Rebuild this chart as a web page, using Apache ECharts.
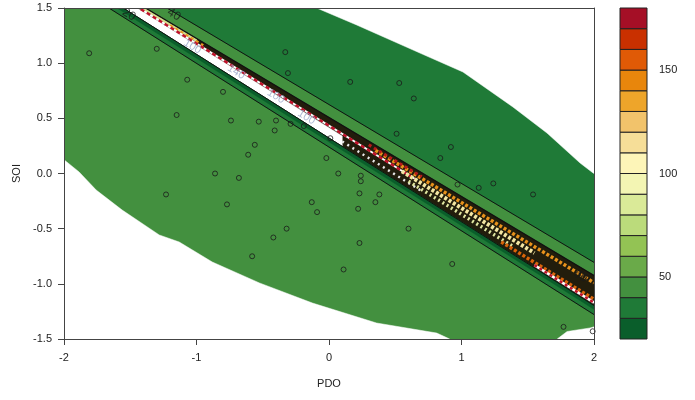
<!DOCTYPE html>
<html>
<head>
<meta charset="utf-8">
<script src="https://cdn.jsdelivr.net/npm/echarts@6/dist/echarts.min.js"></script>
<style>
  html, body { margin: 0; padding: 0; background: #ffffff; }
  #chart { width: 695px; height: 400px; }
</style>
</head>
<body>
<div id="chart"></div>
<script>
// ---- colour key: lower bound of each 10-unit band and its fill ----
const levels = [20, 30, 40, 50, 60, 70, 80, 90, 100, 110, 120, 130, 140, 150, 160, 170];
const levelColors = ['#0a5e2b', '#1f7a37', '#43903f', '#6aaa49', '#93c354', '#bbdb7b',
  '#daea98', '#f3f5b3', '#fdf5b8', '#f6de98', '#f2c36b', '#eea52a', '#e8860c', '#e05a06',
  '#c93000', '#a50f26'];
const keyTicks = [50, 100, 150];

// ---- observations (PDO, SOI) ----
const pdo = [-1.81, -1.30, -0.33, -0.31, 0.16, 0.53, 0.64, -1.07, -0.80, -1.15,
  0.51, 0.92, 0.84, -0.74, -0.53, -0.40, -0.29, -0.19, -0.41, -0.56,
  -0.61, -0.02, 0.01, 0.07, -0.86, -0.68, 0.24, 0.24, 0.23, 0.38,
  0.97, 1.13, 1.24, 1.54, -1.23, -0.77, -0.13, -0.09, 0.22, 0.35,
  0.60, -0.32, -0.42, 0.23, -0.58, 0.11, 0.93, 1.91, 1.95, 1.77, 1.99];
const soi = [1.09, 1.13, 1.10, 0.91, 0.83, 0.82, 0.68, 0.85, 0.74, 0.53,
  0.36, 0.24, 0.14, 0.48, 0.47, 0.48, 0.45, 0.43, 0.39, 0.26,
  0.17, 0.14, 0.32, 0.00, 0.00, -0.04, -0.02, -0.07, -0.18, -0.19,
  -0.10, -0.13, -0.09, -0.19, -0.19, -0.28, -0.26, -0.35, -0.32, -0.26,
  -0.50, -0.50, -0.58, -0.63, -0.75, -0.87, -0.82, -0.91, -0.94, -1.39, -1.43];

// ---- contour boundaries (PDO, SOI end points) ----
const plotArea = [[-2, -1.5], [2, -1.5], [2, 1.5], [-2, 1.5]];
const contourHi40 = [[-2.3, 2.27], [2.3, -1.02]];
const bandTop = [[-2.3, 2.155], [2.3, -1.139]];
const contour20 = [[-2.3, 2.067], [2.3, -1.424]];
const contour30 = [[-2.3, 2.032], [2.3, -1.459]];
const contourLo40 = [[-2.3, 1.985], [2.3, -1.506]];
const lowGap = [[-2.3, 2.137], [0.10, 0.340], [0.10, 0.246], [-2.3, 2.067]];

// narrow streaks of high values inside the steep band
const streakTopLeft = [[-1.45, 1.53], [-1.00, 1.205]];
const streakTopOrange = [[-1.20, 1.34], [-0.95, 1.16]];
const streakRedCentre = [[-1.42, 1.49], [0.65, -0.05]];
const streakGapDash = [[0.10, 0.29], [0.70, -0.16]];
const streakRedLeft = [[0.30, 0.26], [0.70, -0.03]];
const streakOrange = [[0.35, 0.21], [2.00, -0.99]];
const streakYellow = [[0.55, 0.02], [1.55, -0.72]];
const streakPale = [[0.60, -0.07], [1.40, -0.67]];
const streakDeep = [[1.30, -0.62], [2.00, -1.14]];
const streakRedRight = [[1.55, -0.83], [2.00, -1.17]];

// ---- edges of the fitted region (outside is left blank) ----
const edgeUpper = [[-0.093, 1.5], [0.209, 1.346], [0.686, 1.092], [1.011, 0.920],
  [1.388, 0.603], [1.645, 0.367], [1.895, 0.095], [1.993, 0.005], [2.0, 0.0]];
const edgeLower = [[-2.0, 0.125], [-1.886, 0.014], [-1.757, -0.150], [-1.561, -0.331],
  [-1.281, -0.557], [-1.130, -0.621], [-0.881, -0.802], [-0.525, -0.992], [-0.125, -1.174],
  [0.359, -1.355], [0.813, -1.446], [0.911, -1.5]];
const edgeLowerRight = [[1.722, -1.5], [1.797, -1.432], [1.970, -1.400], [2.0, -1.39]];

// ---- contour labels: PDO, SOI, text ----
const contourLabels = [
  [-1.17, 1.44, '40'], [-1.51, 1.44, '20'], [1.90, -0.93, '60']
];
const faintLabels = [
  [-1.03, 1.15, '100'], [-0.70, 0.92, '140'], [-0.40, 0.70, '100'], [-0.17, 0.51, '100']
];

const FONT = '"Liberation Sans", Arial, sans-serif';
const colorOf = v => levelColors[levels.indexOf(v)];
const rev = a => a.slice().reverse();

const fills = [
  { pts: plotArea, fill: colorOf(40) },
  { pts: contourHi40.concat([[2.3, 3], [-2.3, 3]]), fill: colorOf(30) },
  { pts: bandTop.concat(rev(contour20)), fill: '#221d0c' },
  { pts: lowGap, fill: '#ffffff' },
  { pts: contour20.concat(rev(contourLo40)), fill: colorOf(30) },
  { pts: contour20.concat(rev(contour30)), fill: colorOf(20) },
  { pts: streakTopLeft, stroke: '#d3df8c', width: 3 },
  { pts: streakTopOrange, stroke: '#e89a22', width: 3, dash: [3, 3] },
  { pts: streakRedCentre, stroke: '#ffffff', width: 2 },
  { pts: streakRedCentre, stroke: '#c0122a', width: 2.5, dash: [4, 3] },
  { pts: streakGapDash, stroke: '#e8e8e8', width: 2.5, dash: [2, 4] },
  { pts: streakOrange, stroke: '#e8921c', width: 3.5, dash: [3, 2] },
  { pts: streakYellow, stroke: '#f3e6a2', width: 4, dash: [3, 2] },
  { pts: streakPale, stroke: '#dfe6a0', width: 3.5, dash: [2, 3] },
  { pts: streakDeep, stroke: '#d9640a', width: 3.5, dash: [3, 2] },
  { pts: streakRedLeft, stroke: '#b81a1a', width: 3, dash: [3, 3] },
  { pts: streakRedRight, stroke: '#ffffff', width: 2.5 },
  { pts: streakRedRight, stroke: '#c0122a', width: 2.5, dash: [3, 3] },
  { pts: contourHi40, stroke: '#111111', width: 1 },
  { pts: bandTop, stroke: '#111111', width: 1.2 },
  { pts: contour20, stroke: '#111111', width: 1 },
  { pts: contourLo40, stroke: '#111111', width: 1 },
  { pts: [[-0.093, 1.8]].concat(edgeUpper, [[2.3, 0.0], [2.3, 1.8]]), fill: '#ffffff' },
  { pts: [[-2.3, 0.125]].concat(edgeLower, [[0.911, -1.8], [-2.3, -1.8]]), fill: '#ffffff' },
  { pts: [[1.722, -1.8]].concat(edgeLowerRight, [[2.3, -1.39], [2.3, -1.8]]), fill: '#ffffff' }
];

function shapeSeries(items, xi, yi, z) {
  return {
    type: 'custom', xAxisIndex: xi, yAxisIndex: yi, clip: true, silent: true, z: z,
    animation: false,
    data: items.map(() => [0, 0]),
    renderItem(params, api) {
      const it = items[params.dataIndex];
      const points = it.pts.map(p => api.coord(p));
      if (it.fill) {
        return { type: 'polygon', shape: { points }, style: { fill: it.fill, stroke: it.fill, lineWidth: 0.5 } };
      }
      return {
        type: 'polyline', shape: { points },
        style: { fill: null, stroke: it.stroke, lineWidth: it.width, lineDash: it.dash || null }
      };
    }
  };
}

// colour key boxes
const keyBoxes = levels.map((lo, i) => ({ lo, hi: lo + 10, color: levelColors[i] }));

const axisText = { color: '#222', fontSize: 11, fontFamily: FONT };

const option = {
  animation: false,
  backgroundColor: '#ffffff',
  grid: [
    { left: 64, top: 8, width: 530, height: 331 },
    { left: 620, top: 8, width: 27, height: 331 }
  ],
  xAxis: [
    {
      type: 'value', gridIndex: 0, min: -2, max: 2, interval: 1, z: 10,
      axisLine: { show: true, onZero: false, lineStyle: { color: '#444', width: 1 } },
      axisTick: { show: true, length: 6, lineStyle: { color: '#444' } },
      axisLabel: Object.assign({ margin: 13, formatter: v => String(v) }, axisText),
      splitLine: { show: false },
      name: 'PDO', nameLocation: 'middle', nameGap: 39, nameTextStyle: axisText
    },
    {
      type: 'value', gridIndex: 0, min: -2, max: 2, position: 'top', z: 10,
      axisLine: { show: true, onZero: false, lineStyle: { color: '#444', width: 1 } },
      axisTick: { show: false }, axisLabel: { show: false }, splitLine: { show: false }
    },
    { type: 'value', gridIndex: 1, min: 0, max: 1, show: false }
  ],
  yAxis: [
    {
      type: 'value', gridIndex: 0, min: -1.5, max: 1.5, interval: 0.5, z: 10,
      axisLine: { show: true, onZero: false, lineStyle: { color: '#444', width: 1 } },
      axisTick: { show: true, length: 6, lineStyle: { color: '#444' } },
      axisLabel: Object.assign({ margin: 12, formatter: v => v.toFixed(1) }, axisText),
      splitLine: { show: false },
      name: 'SOI', nameLocation: 'middle', nameGap: 40, nameRotate: 90, nameTextStyle: axisText
    },
    {
      type: 'value', gridIndex: 0, min: -1.5, max: 1.5, position: 'right', z: 10,
      axisLine: { show: true, onZero: false, lineStyle: { color: '#444', width: 1 } },
      axisTick: { show: false }, axisLabel: { show: false }, splitLine: { show: false }
    },
    {
      type: 'value', gridIndex: 1, min: 20, max: 180, position: 'right',
      axisLine: { show: false },
      axisTick: { show: true, length: 7, customValues: keyTicks, lineStyle: { color: '#444' } },
      axisLabel: Object.assign({ margin: 12, customValues: keyTicks }, axisText),
      splitLine: { show: false }
    }
  ],
  series: [
    shapeSeries(fills, 0, 0, 1),
    {
      type: 'custom', xAxisIndex: 2, yAxisIndex: 2, silent: true, z: 2,
      data: keyBoxes.map(b => [0, b.lo]),
      renderItem(params, api) {
        const b = keyBoxes[params.dataIndex];
        const p0 = api.coord([0, b.hi]);
        const p1 = api.coord([1, b.lo]);
        return {
          type: 'rect',
          shape: { x: p0[0], y: p0[1], width: p1[0] - p0[0], height: p1[1] - p0[1] },
          style: { fill: b.color, stroke: '#222', lineWidth: 1 }
        };
      }
    },
    {
      type: 'scatter', xAxisIndex: 0, yAxisIndex: 0, silent: true, z: 4,
      symbolSize: 0,
      data: contourLabels.map(l => ({ value: [l[0], l[1]], name: l[2] })),
      label: {
        show: true, position: 'inside', rotate: -31, formatter: p => p.name,
        color: '#1a1a1a', fontSize: 12, fontFamily: FONT
      }
    },
    {
      type: 'scatter', xAxisIndex: 0, yAxisIndex: 0, silent: true, z: 4,
      symbolSize: 0,
      data: faintLabels.map(l => ({ value: [l[0], l[1]], name: l[2] })),
      label: {
        show: true, position: 'inside', rotate: -31, formatter: p => p.name,
        color: '#97a5c8', fontSize: 11, fontFamily: FONT
      }
    },
    {
      type: 'scatter', xAxisIndex: 0, yAxisIndex: 0, silent: true, z: 5,
      symbol: 'circle', symbolSize: 5,
      itemStyle: { color: 'rgba(0,0,0,0)', borderColor: '#1a1a1a', borderWidth: 1 },
      data: pdo.map((x, i) => [x, soi[i]])
    }
  ]
};

const chart = echarts.init(document.getElementById('chart'), null, { renderer: 'canvas' });
chart.setOption(option);
</script>
</body>
</html>
